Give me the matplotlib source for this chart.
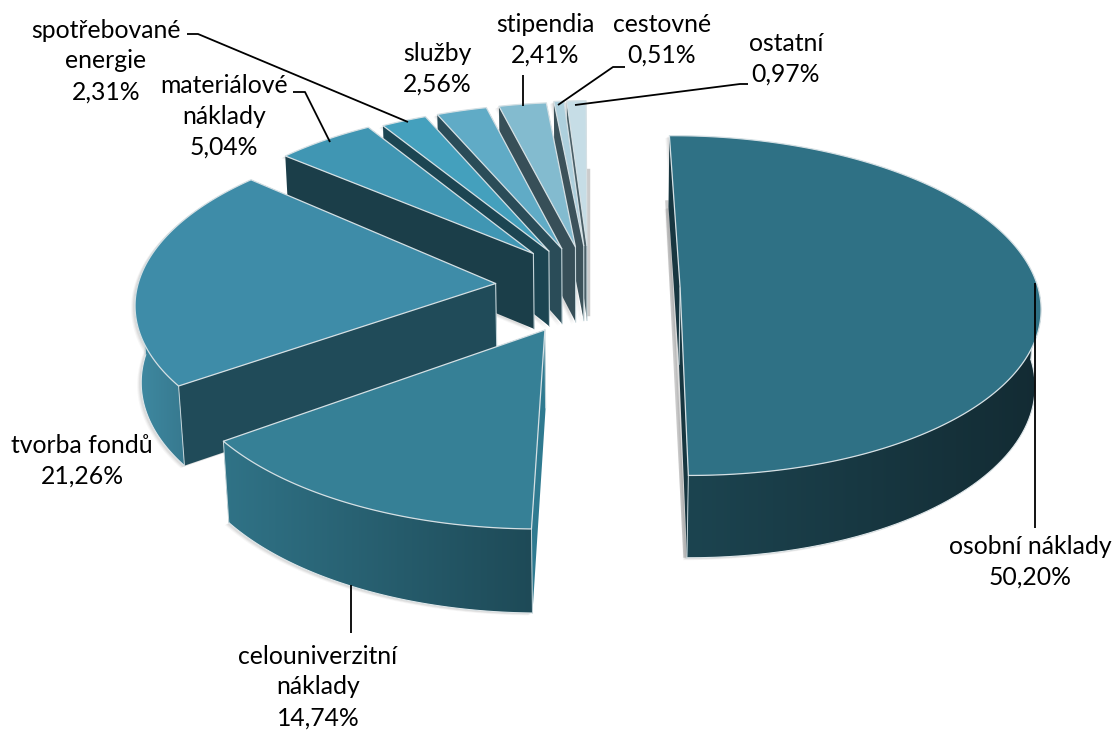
import numpy as np
import matplotlib
matplotlib.use('Agg')
import matplotlib.pyplot as plt
from matplotlib.colors import to_rgb
from matplotlib.patches import Polygon

plt.rcParams['font.family'] = ['Lato', 'DejaVu Sans']

names = ['osobní náklady', 'celouniverzitní\nnáklady', 'tvorba fondů', 'materiálové\nnáklady',
         'spotřebované\nenergie', 'služby', 'stipendia', 'cestovné', 'ostatní']
shares = [50.20, 14.74, 21.26, 5.04, 2.31, 2.56, 2.41, 0.51, 0.97]

# look of each slice
explode = [0.235, 0.30, 0.27, 0.26, 0.26, 0.26, 0.26, 0.26, 0.26]
slice_turn = [-0.3, 0.5, 1.3, 0, 0, 0, 0, 0, 0]
slice_shift = [(2, 3), (2, -1), (-2, 1), (-1, 1), (-3, 4), (-3, 4), (-3, 4), (-3, 3), (-4, 3)]
top_col = ['#2f7185', '#368096', '#3e8ca8', '#4096b3', '#44a0bd', '#60abc6', '#83bbcf', '#aed0dd', '#c6dde6']
face_col = ['#173640', '#2f7a90', '#204b59', '#1b3e49', '#1c4552', '#2a4c58', '#374f58', '#3c525a', '#4a5f67']
wall_a = ['#1c4450', '#307387', '#3f8aa2', '#1b3e49', '#1c4552', '#2a4c58', '#374f58', '#3c525a', '#4a5f67']
wall_b = ['#132b33', '#1e4a57', '#37798f', '#1b3e49', '#1c4552', '#2a4c58', '#374f58', '#3c525a', '#4a5f67']

# label centres and leader lines, in pixels of the picture
label_xy = [(1030, 562), (318, 687), (82, 461), (224, 116), (106, 61), (437, 69), (545, 40), (662, 40), (786, 59)]
leaders = [[(1035, 283), (1035, 528)],
           [(351, 585), (351, 633)],
           [],
           [(293, 92), (305, 92), (330, 142)],
           [(187, 34), (198, 34), (408, 122)],
           [],
           [(523, 75), (523, 106)],
           [(625, 67), (613, 67), (558, 105)],
           [(748, 84), (740, 84), (575, 105)]]
shadow_bars = [[(588, 170), (588, 314)], [(667, 202), (685, 556)]]

W, H = 1116, 731
cx, cy = 594, 285
scale = 358.0
elev = np.radians(28)
dist = 8.5
thick = 0.245
start_angle = -0.2


def project(x, y, z):
    up = y*np.sin(elev) + z*np.cos(elev)
    depth = dist + y*np.cos(elev) - z*np.sin(elev)
    f = scale*dist/depth
    return cx + f*x, cy - f*up


def poly_pts(xs, ys, z):
    return np.column_stack(project(np.asarray(xs), np.asarray(ys), z))


fig = plt.figure(figsize=(W/100, H/100), dpi=100)
ax = fig.add_axes([0, 0, 1, 1])

total = sum(shares)
edges = start_angle + np.cumsum([0] + shares)/total*360
draw_order = [8, 7, 6, 5, 4, 3, 2, 1, 0]

for pts in shadow_bars:
    ax.plot([p[0] for p in pts], [p[1] for p in pts], color='#808080', lw=2.5, alpha=0.4, zorder=1)

for i in draw_order:
    a0, a1 = np.radians(edges[i] + slice_turn[i]), np.radians(edges[i+1] + slice_turn[i])
    mid = (a0 + a1)/2
    ox, oy = explode[i]*np.sin(mid), explode[i]*np.cos(mid)
    t = np.linspace(a0, a1, max(int(np.degrees(a1-a0))*2, 6) + 1)
    rx, ry = ox + np.sin(t), oy + np.cos(t)
    shift = np.array(slice_shift[i])

    top = np.vstack([poly_pts([ox], [oy], 0), poly_pts(rx, ry, 0)]) + shift
    low = np.vstack([poly_pts([ox], [oy], -thick), poly_pts(rx, ry, -thick)]) + shift

    # soft shadow
    for off, al in [(4, 0.05), (3, 0.07), (2, 0.09)]:
        for q in [low + (-off, off*0.6), top + (-off, off*0.6)]:
            ax.add_patch(Polygon(q, closed=True, fc='#555555', ec='none', alpha=al, zorder=2))

    # cut faces
    f0 = np.array([top[0], top[1], low[1], low[0]])
    f1 = np.array([top[0], top[-1], low[-1], low[0]])
    ax.add_patch(Polygon(f0, closed=True, fc=face_col[i], ec='none', zorder=2))
    ax.add_patch(Polygon(f1, closed=True, fc=face_col[i], ec='none', zorder=2))
    ax.plot(f0[[0, 3], 0], f0[[0, 3], 1], color='#c4d4d9', lw=0.8, zorder=2)

    # outer wall, front part only, shade runs left to right
    front = np.cos(t) < 0.03
    if front.sum() > 1:
        tp = poly_pts(rx[front], ry[front], 0) + shift
        lp = poly_pts(rx[front], ry[front], -thick) + shift
        ca, cb = np.array(to_rgb(wall_a[i])), np.array(to_rgb(wall_b[i]))
        grad = ca + (cb - ca)*np.linspace(0, 1, 256)[None, :, None]
        wall = Polygon(np.vstack([tp, lp[::-1]]), closed=True, fc='none', ec='none', zorder=2)
        ax.add_patch(wall)
        both = np.vstack([tp, lp])
        x0, x1 = both[:, 0].min(), both[:, 0].max()
        y0, y1 = both[:, 1].min(), both[:, 1].max()
        im = ax.imshow(grad, extent=[x0, x1, y1, y0], aspect='auto', zorder=2, interpolation='bilinear')
        im.set_clip_path(wall)
        ax.plot(lp[:, 0], lp[:, 1], color='#dfe7ea', lw=0.8, zorder=2)
        for k in [0, -1]:
            ax.plot([tp[k, 0], lp[k, 0]], [tp[k, 1], lp[k, 1]], color='#c4d4d9', lw=0.7, zorder=2)

    ax.add_patch(Polygon(top, closed=True, fc=top_col[i], ec='#d5e0e4', lw=0.9, joinstyle='round', zorder=2))

for i, name in enumerate(names):
    pts = leaders[i]
    if pts:
        ax.plot([p[0] for p in pts], [p[1] for p in pts], color='black', lw=1.3, solid_capstyle='butt', zorder=3)
    ax.text(label_xy[i][0], label_xy[i][1], name + '\n' + f'{shares[i]:.2f}%'.replace('.', ','),
            ha='center', va='center', fontsize=17.8, color='black', linespacing=1.42, zorder=4)

ax.set_xlim(0, W)
ax.set_ylim(H, 0)
ax.axis('off')
fig.savefig('out.png', dpi=100)
